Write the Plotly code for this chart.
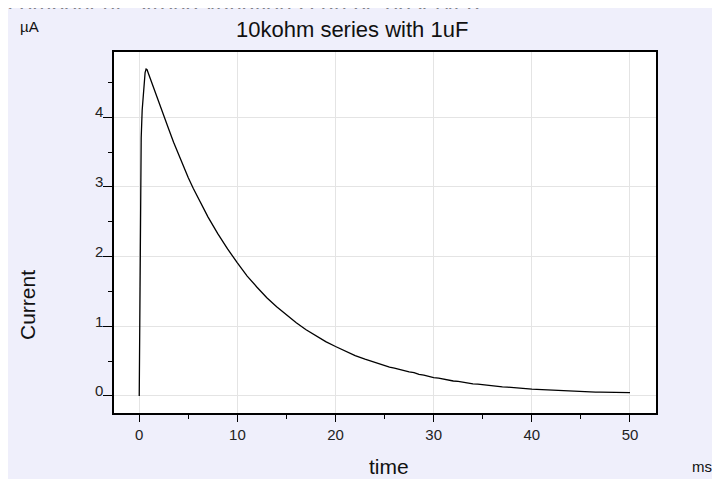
import plotly.graph_objects as go

# measured RC charging current (10 kohm in series with 1 uF)
time_ms = [0, 0.05, 0.1, 0.15, 0.2, 0.3, 0.4, 0.5, 0.6, 0.7, 0.8, 0.9, 1.0,
           1.5, 2, 2.5, 3, 3.5, 4, 4.5, 5, 5.5, 6, 7, 8, 9, 10, 11, 12, 13,
           14, 15, 16, 17, 18, 19, 20, 21, 22, 23, 24, 24.5, 25, 25.5, 26,
           26.5, 27, 27.5, 28, 28.5, 29, 29.5, 30, 30.5, 31, 31.5, 32, 32.5,
           33, 33.5, 34, 34.5, 35, 35.5, 36, 36.5, 37, 37.5, 38, 38.5, 39,
           39.5, 40, 40.5, 41, 41.5, 42, 42.5, 43, 43.5, 44, 44.5, 45, 45.5,
           46, 46.5, 47, 47.5, 48, 48.5, 49, 49.5, 50]
current_ua = [0.0, 0.9, 2.1, 3.1, 3.7, 4.1, 4.3, 4.5, 4.64, 4.69, 4.68, 4.64, 4.6,
              4.42, 4.22, 4.02, 3.83, 3.64, 3.46, 3.29, 3.13, 2.98, 2.84, 2.57,
              2.33, 2.11, 1.91, 1.72, 1.56, 1.41, 1.28, 1.16, 1.05, 0.95, 0.86,
              0.78, 0.71, 0.64, 0.58, 0.53, 0.48, 0.455, 0.44, 0.415, 0.40,
              0.38, 0.37, 0.345, 0.335, 0.31, 0.30, 0.28, 0.265, 0.255, 0.24,
              0.235, 0.215, 0.21, 0.195, 0.19, 0.175, 0.17, 0.16, 0.155, 0.145,
              0.14, 0.13, 0.128, 0.12, 0.115, 0.108, 0.105, 0.098, 0.094, 0.09,
              0.087, 0.082, 0.08, 0.075, 0.074, 0.07, 0.066, 0.065, 0.06, 0.06,
              0.056, 0.055, 0.052, 0.051, 0.048, 0.049, 0.046, 0.047]

x_ticks = [0, 10, 20, 30, 40, 50]
y_ticks = [0, 1, 2, 3, 4]

FONT = "Arial, Liberation Sans, sans-serif"
BG = "#EFEFFB"

fig = go.Figure()
fig.add_trace(go.Scatter(x=time_ms, y=current_ua, mode="lines",
                         line=dict(color="black", width=1.3), showlegend=False))

axis_common = dict(
    showline=True, linecolor="black", linewidth=1.5, mirror=True,
    showgrid=True, gridcolor="#e4e4e4", gridwidth=1,
    zeroline=True, zerolinecolor="#e4e4e4", zerolinewidth=1,
    ticks="outside", tickcolor="black", tickwidth=1,
    tickfont=dict(family=FONT, size=15, color="#222"),
)

fig.update_xaxes(range=[-2.57, 52.65], tickvals=x_ticks, ticklen=7,
                 minor=dict(dtick=5, ticklen=4, tickcolor="black", ticks="outside", showgrid=False),
                 **axis_common)
fig.update_yaxes(range=[-0.244, 4.935], tickvals=y_ticks, ticklen=9,
                 ticklabelshift=-5, ticklabelstandoff=-3,
                 minor=dict(dtick=0.5, ticklen=4, tickcolor="black", ticks="outside", showgrid=False),
                 **axis_common)

# the page adds an 8px body margin, so the figure sits 8px in from the corner
OFF = 8
W, H = 720 - OFF, 479 - OFF
L, R, T, B = 114 - OFF, 720 - 656, 52 - OFF, 479 - 413
pw, ph = W - L - R, H - T - B


def px(x):
    return (x - OFF - L) / pw


def py(y):
    return (H - B - (y - OFF)) / ph


def label(text, x, y, size, xanchor="center", yanchor="middle", **kw):
    fig.add_annotation(text=text, x=px(x), y=py(y), xref="paper", yref="paper",
                       xanchor=xanchor, yanchor=yanchor, showarrow=False,
                       font=dict(family=FONT, size=size, color="#111"), **kw)


# page text above the chart image, only its lower edge peeks in
label("component, strong variations can be observed.", 6, 20, 23,
      xanchor="left", yanchor="bottom")
# lavender strip hiding the descenders of that page text
fig.add_annotation(text=" ", x=px(360), y=py(8), xref="paper", yref="paper",
                   xanchor="center", yanchor="top", showarrow=False,
                   width=760, height=11, bgcolor=BG, borderpad=0)

label("10kohm series with 1uF", 352, 30, 22)
label("µA", 29, 26, 15)
label("Current", 27, 305, 21, textangle=-90)
label("time", 389, 466, 21)
label("ms", 702, 467, 15)

fig.update_layout(
    width=W, height=H,
    margin=dict(l=L, r=R, t=T, b=B),
    paper_bgcolor=BG, plot_bgcolor="white",
    font=dict(family=FONT),
)

fig.write_html("out.html")
